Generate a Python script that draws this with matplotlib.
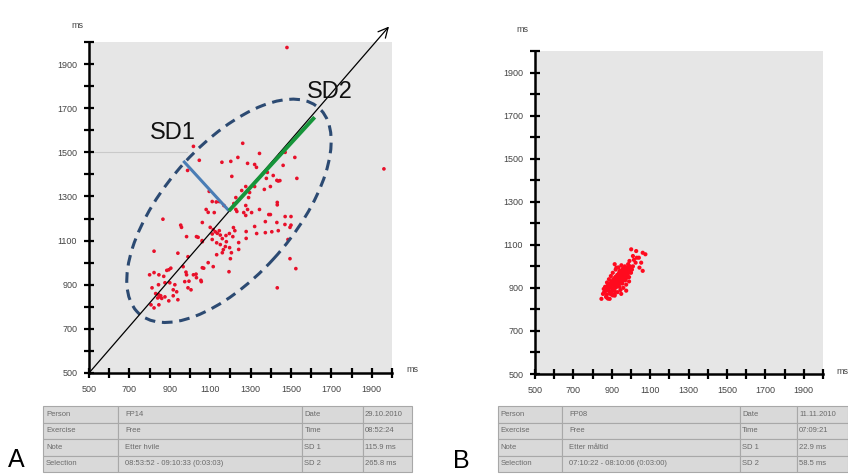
import matplotlib
matplotlib.use("Agg")
import matplotlib.pyplot as plt
from matplotlib.patches import Ellipse
from matplotlib.ticker import FixedLocator, FuncFormatter
import numpy as np

plt.rcParams['font.family'] = ['Liberation Sans', 'DejaVu Sans']

# ---------------- data ----------------
axis_min, axis_max = 500, 2000
tick_values = list(range(500, 2001, 100))
label_values = list(range(500, 2000, 200))

# Panel A: RR(n) vs RR(n+1) in ms
a_x = [1480, 1960,
       1017, 988, 1046, 1158, 1202, 1237, 1261, 1285, 1320, 1344, 1329, 1207, 1383, 1446, 1471,
       1461, 1519, 1529, 1378, 1412, 1430, 1437, 1445, 1398, 1368, 1320, 1276, 1256, 1295, 1290,
       1227, 1095, 1432, 1432, 1217, 1276, 1344, 1227, 1285, 1266, 1398, 1471, 1500, 1276,
       1110, 1130, 1145, 1080, 1120, 1168, 1232, 1305, 1390, 1470, 1495, 866, 954, 958, 983,
       1032, 1061, 1100, 1115, 1125, 1110, 1135, 1145, 1150, 1061, 1110, 1132, 1150, 1160, 1178,
       1195, 1215, 1222, 1212, 1180, 1175, 1165, 1160, 1132, 1196, 1205, 1241, 1241, 1200, 1193,
       1278, 1278, 1320, 1330, 1373, 1373, 1405, 1430, 1437, 1500, 1485, 1495, 1524, 1432,
       822, 940, 990, 895, 905, 885, 966, 983, 1017, 1032, 1056, 1061, 1068, 1115, 1090, 812,
       844, 876, 925, 974, 917, 934, 900, 830, 845, 855, 840, 852, 860, 876, 917, 940, 807, 822,
       846, 895, 990, 1005, 800, 822, 846, 1030, 980, 1054, 870, 995, 1060, 1090, 1040]
a_y = [1975, 1425,
       1527, 1418, 1464, 1455, 1459, 1477, 1541, 1450, 1445, 1495, 1432, 1391, 1409, 1491, 1500,
       1441, 1477, 1382, 1382, 1395, 1373, 1370, 1372, 1345, 1332, 1345, 1345, 1327, 1318, 1295,
       1295, 1323, 1273, 1262, 1268, 1259, 1241, 1241, 1241, 1227, 1218, 1209, 1209, 1214,
       1277, 1275, 1277, 1241, 1227, 1259, 1232, 1227, 1218, 1173, 1160, 1197, 1170, 1160, 1118,
       1118, 1182, 1160, 1150, 1140, 1130, 1133, 1145, 1125, 1095, 1105, 1090, 1082, 1109, 1123,
       1132, 1159, 1145, 1118, 1095, 1073, 1059, 1045, 1036, 1068, 1045, 1091, 1060, 1018, 959,
       1141, 1110, 1164, 1132, 1136, 1186, 1140, 1182, 1145, 1170, 1105, 1018, 973, 886,
       1052, 1043, 1027, 968, 975, 965, 982, 945, 945, 932, 914, 977, 975, 982, 1000, 886,
       900, 909, 900, 914, 877, 868, 909, 860, 855, 850, 840, 845, 838, 845, 850, 832, 809, 795,
       809, 827, 886, 877, 945, 955, 945, 948, 957, 920, 938, 916, 1100, 1228, 1115]

# Panel A annotation geometry (ms)
ell_center = (1193, 1235)
ell_major = 1290     # full length of major axis
ell_minor = 620      # full length of minor axis
ell_angle = 45
sd1_len = 320
sd2_len = 600
sd1_label_pos = (916, 1586)
sd2_label_pos = (1690, 1775)
identity_end = (1985, 2070)
guide_y = 1500

# Panel B: RR(n) vs RR(n+1) in ms
b_x = [1001, 1027, 1061, 1075, 1041, 1010, 992, 1024, 1053, 1044, 1061, 972, 941, 915, 924,
       846, 854, 872, 889, 915, 949, 975,
       860, 870, 875, 880, 885, 890, 890, 895, 900, 900, 905, 910, 910, 915, 915, 920, 920, 925,
       925, 930, 930, 935, 935, 940, 940, 945, 945, 950, 950, 955, 955, 960, 960, 965, 965, 970,
       970, 975, 975, 980, 980, 985, 990, 990, 995, 1000, 1005, 1010, 870, 880, 895, 905, 915,
       930, 945, 960, 975, 990, 865, 875, 885, 895, 905, 920, 935, 950, 880, 892, 902, 912, 922,
       932, 942, 952, 962, 972, 982, 897, 907, 918, 928, 938, 948, 958, 968, 978, 988, 998, 858,
       866, 878, 888, 898, 908, 918, 928, 938, 948, 958, 968, 985, 1015, 1030]
b_y = [1079, 1071, 1063, 1056, 1040, 1048, 1025, 1017, 1017, 994, 979, 987, 979, 1010, 994,
       849, 872, 856, 849, 864, 872, 887,
       880, 900, 870, 890, 905, 880, 920, 900, 915, 885, 930, 900, 940, 915, 885, 930, 950, 905,
       925, 945, 915, 960, 930, 940, 905, 955, 925, 970, 940, 950, 920, 965, 935, 980, 950, 960,
       935, 975, 945, 990, 960, 970, 985, 950, 1000, 970, 985, 1000, 860, 850, 870, 865, 870,
       880, 890, 900, 915, 930, 905, 925, 940, 955, 970, 985, 995, 1005, 895, 905, 915, 925, 935,
       945, 955, 965, 975, 985, 995, 880, 890, 900, 910, 920, 930, 940, 950, 960, 970, 980, 895,
       885, 910, 920, 930, 940, 950, 960, 970, 980, 990, 1000, 1010, 1030, 1040]

# Tables
table_a = [["Person", "FP14", "Date", "29.10.2010"],
           ["Exercise", "Free", "Time", "08:52:24"],
           ["Note", "Etter hvile", "SD 1", "115.9 ms"],
           ["Selection", "08:53:52 - 09:10:33 (0:03:03)", "SD 2", "265.8 ms"]]
table_b = [["Person", "FP08", "Date", "11.11.2010"],
           ["Exercise", "Free", "Time", "07:09:21"],
           ["Note", "Etter måltid", "SD 1", "22.9 ms"],
           ["Selection", "07:10:22 - 08:10:06 (0:03:00)", "SD 2", "58.5 ms"]]

# ---------------- figure ----------------
W, H = 848, 474
fig = plt.figure(figsize=(W / 100, H / 100), dpi=100)
fig.patch.set_facecolor('white')

def px_axes(l, r, t, b):
    return fig.add_axes([l / W, 1 - b / H, (r - l) / W, (b - t) / H])

def style_axes(ax):
    ax.set_xlim(axis_min, axis_max)
    ax.set_ylim(axis_min, axis_max)
    ax.set_facecolor('#e6e6e6')
    for s in ('top', 'right'):
        ax.spines[s].set_visible(False)
    for s in ('left', 'bottom'):
        ax.spines[s].set_linewidth(1.8)
        ax.spines[s].set_color('black')
    fmt = FuncFormatter(lambda v, p: f"{int(v)}" if int(v) in label_values else "")
    for axis in (ax.xaxis, ax.yaxis):
        axis.set_major_locator(FixedLocator(tick_values))
        axis.set_major_formatter(fmt)
    ax.tick_params(direction='inout', length=7, width=1.6, labelsize=6.5,
                   labelcolor='#444444', pad=5)

axA = px_axes(89, 392, 42, 373)
style_axes(axA)
axB = px_axes(535, 823, 51, 374)
style_axes(axB)

# Panel A content
axA.plot([axis_min, sd1_label_pos[0] + 70], [guide_y, guide_y], color='#c9c9c9', lw=0.8, zorder=1)
axA.scatter(a_x, a_y, s=7, color='#e8102a', edgecolors='none', zorder=3, clip_on=False)
axA.add_patch(Ellipse(ell_center, ell_major, ell_minor, angle=ell_angle, fill=False,
                      edgecolor='#2c4a72', lw=2.2, linestyle=(0, (3.5, 2.2)), zorder=4))
axA.annotate('', xy=identity_end, xytext=(axis_min, axis_min),
             arrowprops=dict(arrowstyle='->,head_length=0.7,head_width=0.35', lw=0.9, color='black',
                             shrinkA=0, shrinkB=0),
             annotation_clip=False, zorder=5)
c45 = np.cos(np.radians(45))
cx, cy = ell_center
axA.plot([cx, cx - sd1_len * c45], [cy, cy + sd1_len * c45], color='#4a7db5', lw=2.2, zorder=6,
         solid_capstyle='butt')
axA.plot([cx, cx + sd2_len * c45], [cy, cy + sd2_len * c45], color='#16953a', lw=2.8, zorder=6,
         solid_capstyle='butt')
axA.text(*sd1_label_pos, 'SD1', fontsize=17, ha='center', va='center', color='#111111', zorder=7)
axA.text(*sd2_label_pos, 'SD2', fontsize=17, ha='center', va='center', color='#111111', zorder=7)

# Panel B content
axB.scatter(b_x, b_y, s=9, color='#ff0a1e', edgecolors='none', zorder=3)

# unit labels
fig.text(77 / W, 1 - 25 / H, 'ms', fontsize=6.5, color='#444444', ha='center', va='center')
fig.text(412 / W, 1 - 369 / H, 'ms', fontsize=6.5, color='#444444', ha='center', va='center')
fig.text(522 / W, 1 - 30 / H, 'ms', fontsize=6.5, color='#444444', ha='center', va='center')
fig.text(842 / W, 1 - 372 / H, 'ms', fontsize=6.5, color='#444444', ha='center', va='center')

# panel letters
fig.text(16 / W, 1 - 460 / H, 'A', fontsize=18, ha='center', va='center', color='black')
fig.text(461 / W, 1 - 461 / H, 'B', fontsize=18, ha='center', va='center', color='black')

def draw_table(rows, l, r, t, b, colw):
    ax = px_axes(l, r, t, b)
    ax.axis('off')
    tot = sum(colw)
    tb = ax.table(cellText=rows, colWidths=[c / tot for c in colw], bbox=[0, 0, 1, 1],
                  cellLoc='left')
    tb.auto_set_font_size(False)
    tb.set_fontsize(5.5)
    for (r_, c_), cell in tb.get_celld().items():
        cell.set_facecolor('#d9d9d9')
        cell.set_edgecolor('#a8a8a8')
        cell.set_linewidth(0.8)
        cell.get_text().set_color('#6a6a6a')
        cell.PAD = 0.04

draw_table(table_a, 43, 412, 406, 472, [75, 184, 61, 49])
draw_table(table_b, 498, 848, 406, 472, [64, 178, 57, 51])

fig.savefig('out.png', dpi=100, facecolor='white')
